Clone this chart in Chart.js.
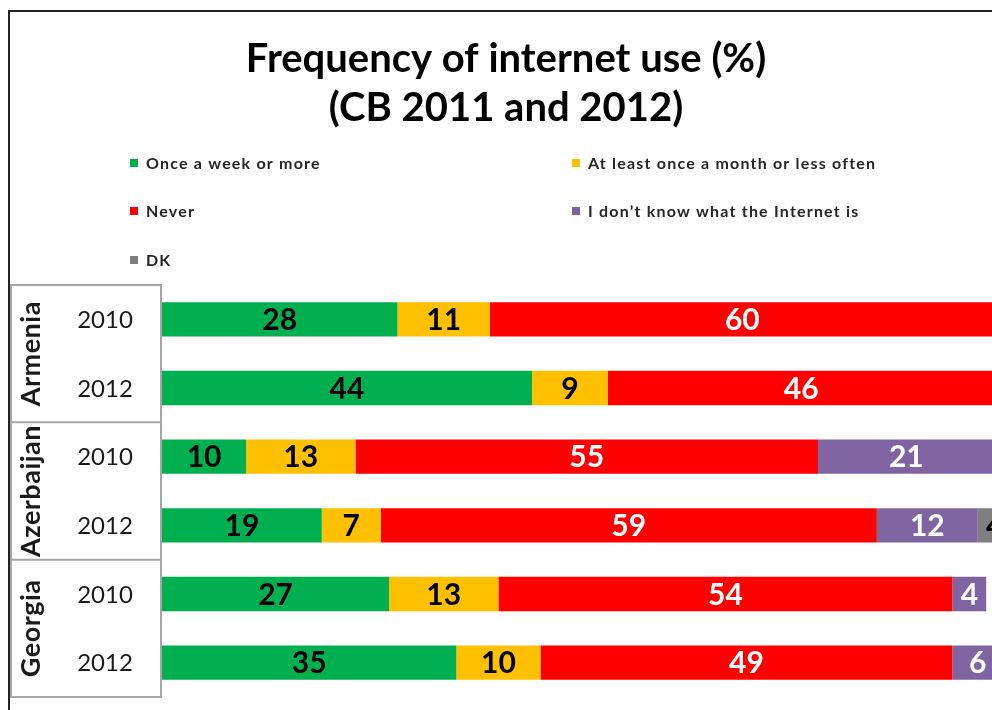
<!DOCTYPE html>
<html>
<head>
<meta charset="utf-8">
<script src="https://cdn.jsdelivr.net/npm/chart.js@4"></script>
<style>
html, body { margin: 0; padding: 0; overflow: hidden; background: #fff; }
#wrap { position: absolute; left: 0; top: 0; width: 1100px; height: 710px; }
</style>
</head>
<body>
<div id="wrap"><canvas id="myChart" width="1100" height="710"></canvas></div>
<script>
var titleLines = ["Frequency of internet use (%)", "(CB 2011 and 2012)"];
var countries = ["Armenia", "Azerbaijan", "Georgia"];
var years = ["2010", "2012", "2010", "2012", "2010", "2012"];
var seriesNames = ["Once a week or more", "At least once a month or less often", "Never", "I don\u2019t know what the Internet is", "DK"];
var weekly = [28, 44, 10, 19, 27, 35];
var monthly = [11, 9, 13, 7, 13, 10];
var never = [60, 46, 55, 59, 54, 49];
var dontKnowInternet = [1, 1, 21, 12, 4, 6];
var dk = [0, 0, 1, 4, 0, 0];
var barColors = ["#00b050", "#ffc000", "#ff0000", "#8064a2", "#7f7f7f"];
var labelColors = ["#000000", "#000000", "#ffffff", "#ffffff", "#000000"];

var FONT = "Lato, 'Open Sans', sans-serif";
var seriesData = [weekly, monthly, never, dontKnowInternet, dk];

var datasets = seriesData.map(function (d, i) {
   return {
      label: seriesNames[i],
      data: d,
      backgroundColor: barColors[i],
      borderWidth: 0,
      barPercentage: 0.5,
      categoryPercentage: 1
   };
});

// title, legend, frame and category box
var decorations = {
   id: 'decorations',
   beforeDraw: function (chart) {
      var c = chart.ctx;
      c.save();
      c.fillStyle = '#000';
      c.textAlign = 'center';
      c.textBaseline = 'middle';
      c.font = 'bold 40px ' + FONT;
      c.fillText(titleLines[0], 506, 59);
      c.fillText(titleLines[1], 506, 108);

      // legend in two columns
      var cols = [130, 572], rows = [163, 211, 260];
      c.font = 'bold 16px ' + FONT;
      c.letterSpacing = '1.2px';
      c.textAlign = 'left';
      chart.data.datasets.forEach(function (ds, i) {
         var x = cols[i % 2], y = rows[Math.floor(i / 2)];
         c.fillStyle = ds.backgroundColor;
         c.fillRect(x, y - 4, 8, 8);
         c.fillStyle = '#262626';
         c.fillText(ds.label, x + 16, y + 1);
      });
      c.letterSpacing = '0px';

      // outer frame
      c.strokeStyle = '#222';
      c.lineWidth = 2;
      c.beginPath();
      c.moveTo(9, 710);
      c.lineTo(9, 11);
      c.lineTo(1100, 11);
      c.stroke();

      // category box
      var y = chart.scales.y;
      var step = y.getPixelForValue(1) - y.getPixelForValue(0);
      var top = y.getPixelForValue(0) - step / 2;
      c.strokeStyle = '#a6a6a6';
      c.lineWidth = 2;
      c.strokeRect(11, top, 150, step * years.length);
      c.beginPath();
      for (var g = 1; g < countries.length; g++) {
         var yy = top + g * 2 * step;
         c.moveTo(11, yy);
         c.lineTo(161, yy);
      }
      c.stroke();

      c.fillStyle = '#1a1a1a';
      c.textAlign = 'center';
      c.font = '24px ' + FONT;
      years.forEach(function (yr, i) {
         c.fillText(yr, 105, y.getPixelForValue(i) + 1);
      });
      c.font = 'bold 27px ' + FONT;
      c.letterSpacing = '0.5px';
      countries.forEach(function (name, g) {
         var mid = top + (g * 2 + 1) * step;
         c.save();
         c.translate(31, mid);
         c.rotate(-Math.PI / 2);
         c.fillText(name, 0, 0);
         c.restore();
      });
      c.restore();
   }
};

var segmentLabels = {
   id: 'segmentLabels',
   afterDatasetsDraw: function (chart) {
      var c = chart.ctx;
      c.save();
      c.font = 'bold 30px ' + FONT;
      c.textAlign = 'center';
      c.textBaseline = 'middle';
      chart.data.datasets.forEach(function (ds, i) {
         var meta = chart.getDatasetMeta(i);
         meta.data.forEach(function (bar, j) {
            var v = ds.data[j];
            if (!v) return;
            var p = bar.getProps(['x', 'y', 'base'], true);
            c.fillStyle = labelColors[i];
            c.fillText(v, (p.x + p.base) / 2, p.y + 1);
         });
      });
      c.restore();
   }
};

var ctx = document.getElementById("myChart").getContext('2d');
var myChart = new Chart(ctx, {
   type: 'bar',
   data: {
      labels: years,
      datasets: datasets
   },
   options: {
      indexAxis: 'y',
      responsive: false,
      animation: false,
      devicePixelRatio: 1,
      layout: { padding: { left: 162, top: 285, right: 97, bottom: 13 } },
      plugins: {
         legend: { display: false },
         title: { display: false },
         tooltip: { enabled: false }
      },
      scales: {
         x: { stacked: true, min: 0, max: 100, display: false },
         y: { stacked: true, display: false }
      }
   },
   plugins: [decorations, segmentLabels]
});
</script>
</body>
</html>
